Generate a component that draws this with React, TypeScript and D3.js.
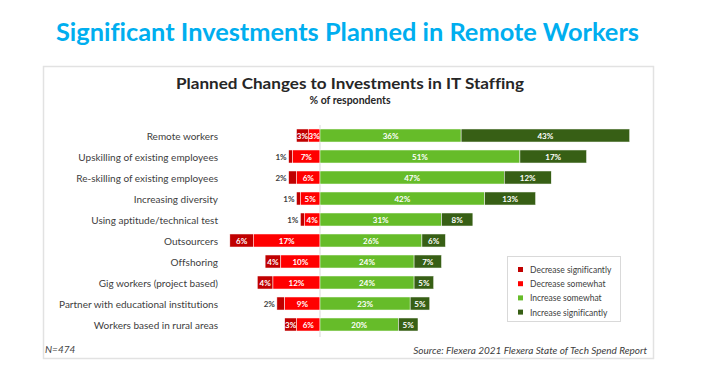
import React from "react";
import * as d3 from "d3";

const categories = [
  "Remote workers",
  "Upskilling of existing employees",
  "Re-skilling of existing employees",
  "Increasing diversity",
  "Using aptitude/technical test",
  "Outsourcers",
  "Offshoring",
  "Gig workers (project based)",
  "Partner with educational institutions",
  "Workers based in rural areas",
];
const decreaseSignificantly = [3, 1, 2, 1, 1, 6, 4, 4, 2, 3];
const decreaseSomewhat = [3, 7, 6, 5, 4, 17, 10, 12, 9, 6];
const increaseSomewhat = [36, 51, 47, 42, 31, 26, 24, 24, 23, 20];
const increaseSignificantly = [43, 17, 12, 13, 8, 6, 7, 5, 5, 5];

const legendLabels = [
  "Decrease significantly",
  "Decrease somewhat",
  "Increase somewhat",
  "Increase significantly",
];
const COLORS = ["#C00000", "#FF0000", "#66BC29", "#375F15"];

const W = 712;
const H = 372;
const FONT = "Lato, 'Open Sans', sans-serif";

export default function App() {
  const x = d3.scaleLinear().domain([-25, 80]).range([222, 633.6]);
  const y = d3
    .scaleBand<string>()
    .domain(categories)
    .range([125, 335])
    .paddingInner(0.38)
    .paddingOuter(0.19);
  const bh = y.bandwidth();

  const rows = categories.map((c, i) => {
    const ds = decreaseSignificantly[i];
    const dm = decreaseSomewhat[i];
    const is = increaseSomewhat[i];
    const ig = increaseSignificantly[i];
    // segments as [start, end, value, colorIndex]
    const segs: [number, number, number, number][] = [
      [-(ds + dm), -dm, ds, 0],
      [-dm, 0, dm, 1],
      [0, is, is, 2],
      [is, is + ig, ig, 3],
    ];
    const y0 = y(c) as number;
    return (
      <g key={c}>
        <text
          x={218}
          y={y0 + bh / 2}
          textAnchor="end"
          dominantBaseline="central"
          fontSize={10}
          fill="#404040"
        >
          {c}
        </text>
        {segs.map(([a, b, v, k]) => {
          const x0 = x(a);
          const x1 = x(b);
          const small = v < 3 && k === 0;
          return (
            <g key={k}>
              <rect
                x={x0}
                y={y0}
                width={x1 - x0}
                height={bh}
                fill={COLORS[k]}
                stroke="#ffffff"
                strokeWidth={0.5}
              />
              <text
                x={small ? x0 - 2 : (x0 + x1) / 2}
                y={y0 + bh / 2 + 0.5}
                textAnchor={small ? "end" : "middle"}
                dominantBaseline="central"
                fontSize={8}
                fontWeight="bold"
                fill={small ? "#404040" : "#ffffff"}
              >
                {v}%
              </text>
            </g>
          );
        })}
      </g>
    );
  });

  return (
    <svg
      width={W}
      height={H}
      style={{
        position: "absolute",
        left: 0,
        top: 0,
        fontFamily: FONT,
        fontVariantLigatures: "none",
      }}
    >
      <rect width={W} height={H} fill="#ffffff" />
      <text
        x={347.5}
        y={41}
        textAnchor="middle"
        fontSize={25}
        fontWeight="bold"
        fill="#00AEEF"
        textLength={583}
        lengthAdjust="spacingAndGlyphs"
      >
        Significant Investments Planned in Remote Workers
      </text>
      <rect
        x={43.5}
        y={66.5}
        width={610}
        height={292}
        fill="#ffffff"
        stroke="#e2e2e2"
        strokeWidth={1.5}
      />
      <text
        x={350}
        y={89}
        textAnchor="middle"
        fontSize={16}
        fontWeight="bold"
        fill="#262626"
        textLength={348}
        lengthAdjust="spacingAndGlyphs"
      >
        Planned Changes to Investments in IT Staffing
      </text>
      <text
        x={350}
        y={104}
        textAnchor="middle"
        fontSize={10.5}
        fontWeight="bold"
        fill="#262626"
      >
        % of respondents
      </text>
      <line
        x1={x(0)}
        x2={x(0)}
        y1={125}
        y2={337}
        stroke="#d9d9d9"
        strokeWidth={1}
      />
      {rows}
      <g>
        <rect
          x={507.5}
          y={256.5}
          width={113}
          height={65}
          fill="#ffffff"
          stroke="#d9d9d9"
        />
        {legendLabels.map((l, i) => (
          <g key={l}>
            <rect
              x={518}
              y={267 + i * 14.2}
              width={5}
              height={5}
              fill={COLORS[i]}
            />
            <text
              x={530}
              y={270 + i * 14.2}
              dominantBaseline="central"
              fontSize={8.5}
              fill="#404040"
            >
              {l}
            </text>
          </g>
        ))}
      </g>
      <text
        x={45}
        y={353}
        fontSize={10}
        fontStyle="italic"
        fill="#404040"
      >
        N=474
      </text>
      <text
        x={647}
        y={354}
        textAnchor="end"
        fontSize={10}
        fontStyle="italic"
        fill="#404040"
      >
        Source: Flexera 2021 Flexera State of Tech Spend Report
      </text>
    </svg>
  );
}
